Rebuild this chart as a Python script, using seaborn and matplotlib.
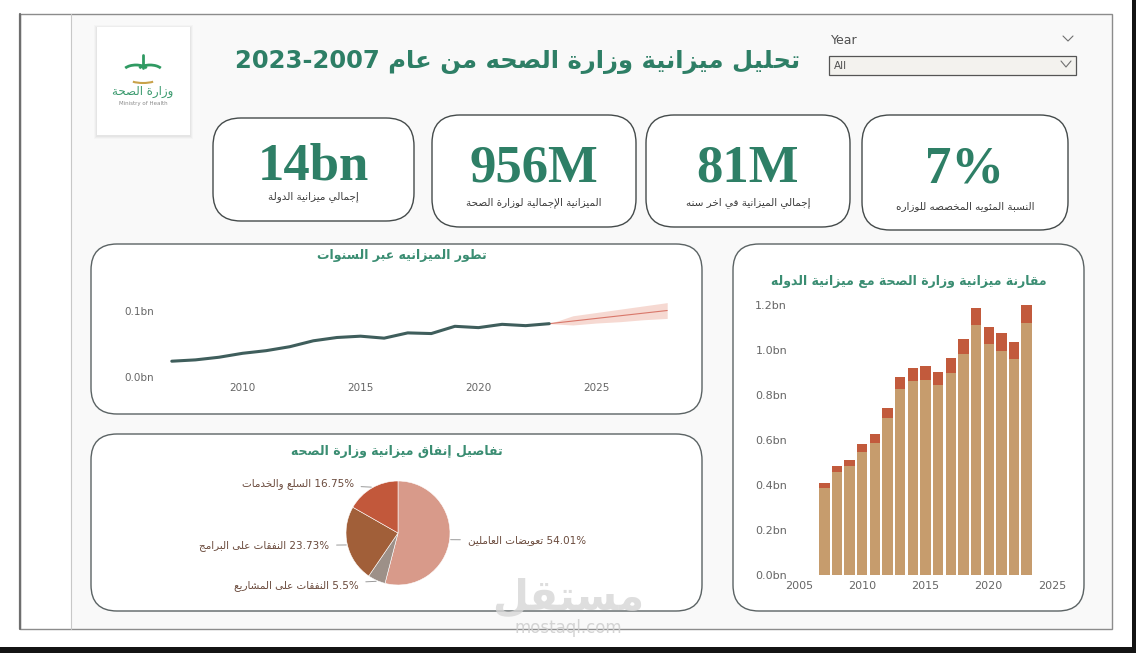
import re
import matplotlib
matplotlib.use("Agg")
import matplotlib.pyplot as plt
from matplotlib.patches import FancyBboxPatch, Rectangle, Arc
from matplotlib.ticker import FuncFormatter
import numpy as np
import pandas as pd
import seaborn as sns

# ---------------- data ----------------
years = [2007, 2008, 2009, 2010, 2011, 2012, 2013, 2014, 2015,
         2016, 2017, 2018, 2019, 2020, 2021, 2022, 2023]
health_budget = [0.024, 0.026, 0.030, 0.036, 0.040, 0.046, 0.055, 0.060, 0.062,
                 0.059, 0.067, 0.066, 0.077, 0.075, 0.080, 0.078, 0.081]
state_budget = [0.385, 0.458, 0.483, 0.547, 0.587, 0.699, 0.827, 0.862, 0.867,
                0.846, 0.898, 0.982, 1.111, 1.027, 0.996, 0.960, 1.120]

forecast_years = [2023, 2024, 2025, 2026, 2027, 2028]
forecast_mid = [0.081, 0.085, 0.089, 0.093, 0.097, 0.101]
forecast_low = [0.081, 0.079, 0.082, 0.084, 0.087, 0.089]
forecast_high = [0.081, 0.093, 0.098, 0.103, 0.108, 0.113]

spend_names = ["تعويضات العاملين", "النفقات على المشاريع",
               "النفقات على البرامج", "السلع والخدمات"]
spend_share = [54.01, 5.5, 23.73, 16.75]
spend_colors = ["#d89a8a", "#9d9088", "#a15f39", "#c2583b"]

kpi_values = ["14bn", "956M", "81M", "7%"]
kpi_labels = ["إجمالي ميزانية الدولة", "الميزانية الإجمالية لوزارة الصحة",
              "إجمالي الميزانية في اخر سنه", "النسبة المئويه المخصصه للوزاره"]

main_title = "تحليل ميزانية وزارة الصحه من عام 2023-2007"
line_title = "تطور الميزانيه عبر السنوات"
bar_title = "مقارنة ميزانية وزارة الصحة مع ميزانية الدوله"
pie_title = "تفاصيل إنفاق ميزانية وزارة الصحه"

GREEN = "#2e7f66"
TITLE_GREEN = "#3a8d72"

# ---------------- minimal arabic shaping (no external libs) ----------------
FORMS = {'ء': 0xFE80, 'آ': 0xFE81, 'أ': 0xFE83, 'ؤ': 0xFE85, 'إ': 0xFE87, 'ئ': 0xFE89,
         'ا': 0xFE8D, 'ب': 0xFE8F, 'ة': 0xFE93, 'ت': 0xFE95, 'ث': 0xFE99, 'ج': 0xFE9D,
         'ح': 0xFEA1, 'خ': 0xFEA5, 'د': 0xFEA9, 'ذ': 0xFEAB, 'ر': 0xFEAD, 'ز': 0xFEAF,
         'س': 0xFEB1, 'ش': 0xFEB5, 'ص': 0xFEB9, 'ض': 0xFEBD, 'ط': 0xFEC1, 'ظ': 0xFEC5,
         'ع': 0xFEC9, 'غ': 0xFECD, 'ف': 0xFED1, 'ق': 0xFED5, 'ك': 0xFED9, 'ل': 0xFEDD,
         'م': 0xFEE1, 'ن': 0xFEE5, 'ه': 0xFEE9, 'و': 0xFEED, 'ى': 0xFEEF, 'ي': 0xFEF1}
DUAL = set('ئبتثجحخسشصضطظعغفقكلمنهي')
RIGHT = set('آأؤإاةدذرزوى')
LAM_ALEF = {'آ': 0xFEF5, 'أ': 0xFEF7, 'إ': 0xFEF9, 'ا': 0xFEFB}


def shape(text):
    out = []
    n = len(text)
    i = 0
    while i < n:
        c = text[i]
        prev = text[i - 1] if i > 0 else ''
        joins_prev = prev in DUAL and (c in DUAL or c in RIGHT)
        if c == 'ل' and i + 1 < n and text[i + 1] in LAM_ALEF:
            out.append(chr(LAM_ALEF[text[i + 1]] + (1 if joins_prev else 0)))
            i += 2
            continue
        if c not in FORMS:
            out.append(c)
            i += 1
            continue
        nxt = text[i + 1] if i + 1 < n else ''
        joins_next = c in DUAL and (nxt in DUAL or nxt in RIGHT)
        if c in DUAL:
            form = 3 if (joins_prev and joins_next) else 1 if joins_prev else 2 if joins_next else 0
        elif c in RIGHT:
            form = 1 if joins_prev else 0
        else:
            form = 0
        out.append(chr(FORMS[c] + form))
        i += 1
    return ''.join(out)


def ar(text):
    """shape + reverse for display, keeping numbers / latin runs left-to-right"""
    rev = shape(text)[::-1]
    return re.sub(r'[0-9A-Za-z.%\-]+', lambda m: m.group(0)[::-1], rev)


# ---------------- figure ----------------
sns.set_style("white")
plt.rcParams['font.family'] = ['DejaVu Sans']

W, H = 1136, 653
fig = plt.figure(figsize=(W / 100, H / 100), dpi=100)
fig.patch.set_facecolor("white")


def fig_rect(x0, y0, x1, y1):
    return [x0 / W, 1 - y1 / H, (x1 - x0) / W, (y1 - y0) / H]


bg = fig.add_axes([0, 0, 1, 1], zorder=0)
bg.set_xlim(0, W)
bg.set_ylim(H, 0)
bg.axis("off")


def card(x0, y0, x1, y1, r=26, ec="#5b6364", lw=1.0, fc="white"):
    bg.add_patch(FancyBboxPatch((x0, y0), x1 - x0, y1 - y0,
                                boxstyle=f"round,pad=0,rounding_size={r}",
                                fc=fc, ec=ec, lw=lw))


# page frame
bg.add_patch(Rectangle((71, 14), 1041, 615, fc="#f9f9f9", ec="none"))
bg.add_patch(Rectangle((20, 14), 1092, 615, fc="none", ec="#8c8c8c", lw=1.0))
bg.plot([20, 20], [14, 629], color="#6e6e6e", lw=1.6)
bg.plot([71, 71], [14, 629], color="#c8c8c8", lw=0.8)
bg.add_patch(Rectangle((0, 647), W, 6, fc="#141414", ec="none"))
bg.add_patch(Rectangle((1132, 0), 4, H, fc="#141414", ec="none"))

# logo
for k, a in enumerate([0.05, 0.07, 0.09]):
    bg.add_patch(Rectangle((97 - 3 + k, 27 - 2 + k), 99 - 2 * k, 114 - 2 * k,
                           fc="#9a9a9a", ec="none", alpha=a))
bg.add_patch(Rectangle((97, 27), 93, 108, fc="white", ec="none"))
bg.add_patch(Arc((136, 72), 26, 14, theta1=200, theta2=340, color="#2f9a62", lw=2))
bg.add_patch(Arc((150, 72), 26, 14, theta1=200, theta2=340, color="#2f9a62", lw=2))
bg.add_patch(Arc((143, 78), 30, 10, theta1=20, theta2=160, color="#c9a24a", lw=1.5))
bg.plot([143, 143], [55, 68], color="#2f9a62", lw=2)
bg.text(143, 92, ar("وزارة الصحة"), ha="center", va="center", fontsize=8.5,
        color="#3b9a6e")
bg.text(143, 103, "Ministry of Health", ha="center", va="center", fontsize=4,
        color="#8a8a8a")

# main title
bg.text(518, 62, ar(main_title), ha="center", va="center", fontsize=17.5,
        fontweight="bold", color=GREEN)

# year slicer
bg.text(831, 41, "Year", ha="left", va="center", fontsize=9, color="#505050")
bg.plot([1063, 1068, 1073], [36, 41, 36], color="#707070", lw=0.8)
bg.add_patch(Rectangle((829, 56), 247, 19, fc="#f3f2ee", ec="#555555", lw=0.9))
bg.text(834, 66, "All", ha="left", va="center", fontsize=7.5, color="#505050")
bg.plot([1061, 1066, 1071], [61, 67, 61], color="#707070", lw=0.8)

# KPI cards
kpi_boxes = [(213, 118, 414, 221), (432, 115, 636, 227),
             (646, 115, 850, 227), (862, 115, 1068, 230)]
for (x0, y0, x1, y1), val, lab in zip(kpi_boxes, kpi_values, kpi_labels):
    card(x0, y0, x1, y1, r=28, ec="#454b4b")
    cx = (x0 + x1) / 2
    bg.text(cx, (y0 + y1) / 2 - 3, val, ha="center", va="center", fontsize=38,
            fontweight="bold", family="Liberation Serif", color=GREEN)
    bg.text(cx, y1 - 24, ar(lab), ha="center", va="center", fontsize=7.5,
            color="#3a3a3a")

# chart panels
card(91, 244, 702, 414)
card(91, 434, 702, 611)
card(733, 244, 1084, 611)
bg.text(402, 255, ar(line_title), ha="center", va="center", fontsize=9,
        fontweight="bold", color=TITLE_GREEN)
bg.text(397, 452, ar(pie_title), ha="center", va="center", fontsize=9,
        fontweight="bold", color=TITLE_GREEN)
bg.text(909, 282, ar(bar_title), ha="center", va="center", fontsize=9,
        fontweight="bold", color=TITLE_GREEN)

bn_fmt = FuncFormatter(lambda v, _: f"{v:.1f}bn")

# ---------- line chart ----------
line_df = pd.DataFrame({"year": years, "budget": health_budget})
ax1 = fig.add_axes(fig_rect(160, 298, 679, 377), zorder=2)
ax1.patch.set_alpha(0)
ax1.fill_between(forecast_years, forecast_low, forecast_high, color="#f3cdc3",
                 alpha=0.75, lw=0)
sns.lineplot(x=forecast_years, y=forecast_mid, ax=ax1, color="#d9776a", lw=0.8)
sns.lineplot(data=line_df, x="year", y="budget", ax=ax1, color="#3f5e5c", lw=2.2)
ax1.set_xlim(2006.5, 2028.5)
ax1.set_ylim(0, 0.12)
ax1.set_xticks([2010, 2015, 2020, 2025])
ax1.set_yticks([0, 0.1])
ax1.yaxis.set_major_formatter(bn_fmt)
ax1.tick_params(length=0, labelsize=7.5, colors="#666666", pad=4)
ax1.set_xlabel("")
ax1.set_ylabel("")
sns.despine(ax=ax1, left=True, bottom=True)

# ---------- stacked bar chart ----------
bar_df = pd.DataFrame({"year": years, "state": state_budget, "health": health_budget})
bar_df["total"] = bar_df["state"] + bar_df["health"]
ax2 = fig.add_axes(fig_rect(792.7, 294, 1058.3, 575), zorder=2)
ax2.patch.set_alpha(0)
sns.barplot(data=bar_df, x="year", y="total", native_scale=True, color="#c25a3c",
            saturation=1, width=0.82, errorbar=None, linewidth=0, ax=ax2)
sns.barplot(data=bar_df, x="year", y="state", native_scale=True, color="#c69c6d",
            saturation=1, width=0.82, errorbar=None, linewidth=0, ax=ax2)
ax2.set_xlim(2004.5, 2025.5)
ax2.set_ylim(0, 1.25)
ax2.set_xticks([2005, 2010, 2015, 2020, 2025])
ax2.set_yticks(np.arange(0, 1.21, 0.2))
ax2.yaxis.set_major_formatter(bn_fmt)
ax2.tick_params(length=0, labelsize=8, colors="#666666", pad=4)
ax2.set_xlabel("")
ax2.set_ylabel("")
sns.despine(ax=ax2, left=True, bottom=True)

# ---------- pie ----------
ax3 = fig.add_axes(fig_rect(346, 481, 450, 585), zorder=2)
wedges, _ = ax3.pie(spend_share, colors=spend_colors, startangle=90,
                    counterclock=False, radius=1,
                    wedgeprops=dict(linewidth=0.4, edgecolor="white"))
ax3.set_xlim(-1, 1)
ax3.set_ylim(-1, 1)
for w, name, share in zip(wedges, spend_names, spend_share):
    ang = np.deg2rad((w.theta1 + w.theta2) / 2)
    ex, ey = np.cos(ang), np.sin(ang)
    side = 1 if ex > 0 else -1
    tx, ty = ex + side * 0.35, ey * 1.1
    ax3.annotate(ar(f"{share:g}% {name}"), xy=(ex * 1.02, ey * 1.02),
                 xytext=(tx, ty), ha="left" if side > 0 else "right",
                 va="center", fontsize=7.5, color="#6a4a3c",
                 annotation_clip=False,
                 arrowprops=dict(arrowstyle="-", color="#9a9a9a", lw=0.7,
                                 shrinkA=3, shrinkB=0))

# watermark
bg.text(568, 597, ar("مستقل"), ha="center", va="center", fontsize=30,
        fontweight="bold", color="#d6d6d6", alpha=0.8, zorder=5)
bg.text(568, 628, "mostaql.com", ha="center", va="center", fontsize=12,
        color="#cfcfcf", alpha=0.9, zorder=5)

fig.savefig("out.png", dpi=100)
